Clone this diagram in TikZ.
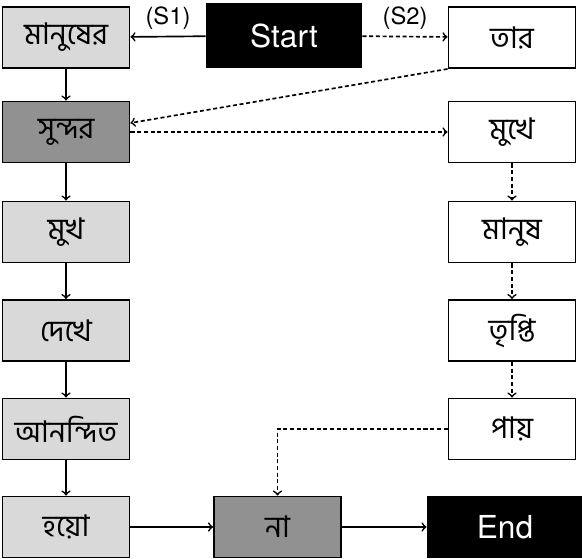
\documentclass[tikz,border=0pt]{standalone}
\usepackage{fontspec}
\setmainfont{TeX Gyre Heros}
\newfontfamily\bangla[Script=Bengali]{Hind Siliguri}
\begin{document}
\begin{tikzpicture}[
  box/.style={draw=black,line width=1.1pt,minimum width=2.54cm,minimum height=1.22cm,inner sep=0pt,font=\bangla\fontsize{17}{20}\selectfont},
  lightbox/.style={box,fill=black!15},
  darkbox/.style={box,fill=black!43},
  whitebox/.style={box,fill=white},
  termbox/.style={box,fill=black,text=white,minimum width=3.1cm,font=\fontsize{18}{21}\selectfont},
  solidarrow/.style={->,line width=0.95pt},
  dotarrow/.style={->,line width=0.95pt,dash pattern=on 2.3pt off 1.5pt},
  steplabel/.style={above,font=\fontsize{13.5}{16}\selectfont}
]
\useasboundingbox (0,0) rectangle (11.64,11.16);

% left column
\node[lightbox] (manusher) at (1.32,10.41) {মানুষের};
\node[darkbox] (sundor) at (1.32,8.52) {সুন্দর};
\node[lightbox] (mukh) at (1.32,6.52) {মুখ};
\node[lightbox] (dekhe) at (1.32,4.55) {দেখে};
\node[lightbox] (anondito) at (1.32,2.58) {আনন্দিত};
\node[lightbox] (hoyo) at (1.32,0.62) {হয়ো};

% right column
\node[whitebox] (tar) at (10.24,10.41) {তার};
\node[whitebox] (mukhe) at (10.24,8.52) {মুখে};
\node[whitebox] (manush) at (10.24,6.52) {মানুষ};
\node[whitebox] (tripti) at (10.24,4.55) {তৃপ্তি};
\node[whitebox] (pay) at (10.24,2.58) {পায়};

% start, end
\node[termbox,minimum height=1.26cm] (start) at (5.68,10.45) {Start};
\node[darkbox] (na) at (5.55,0.62) {না};
\node[termbox] (end) at (10.1,0.62) {End};

%---------------------------------

\draw[solidarrow] (start) -- node[steplabel] {(S1)} (manusher);
\draw[dotarrow] (start) -- node[steplabel] {(S2)} (tar);

\draw[solidarrow] (manusher) -- (sundor);
\draw[solidarrow] (sundor) -- (mukh);
\draw[solidarrow] (mukh) -- (dekhe);
\draw[solidarrow] (dekhe) -- (anondito);
\draw[solidarrow] (anondito) -- (hoyo);
\draw[solidarrow] (hoyo) -- (na);
\draw[solidarrow] (na) -- (end);

\draw[dotarrow] (tar.south west) -- ([yshift=0.18cm]sundor.east);
\draw[dotarrow] (sundor) -- (mukhe);
\draw[dotarrow] (mukhe) -- (manush);
\draw[dotarrow] (manush) -- (tripti);
\draw[dotarrow] (tripti) -- (pay);
\draw[dotarrow] (pay.west) -| (na.north);
\end{tikzpicture}
\end{document}
